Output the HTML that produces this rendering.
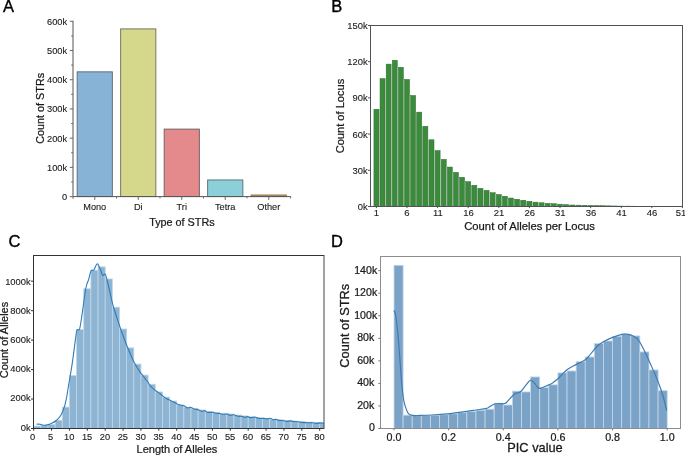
<!DOCTYPE html>
<html><head><meta charset="utf-8"><style>
html,body{margin:0;padding:0;background:#fff;}
svg{display:block;font-family:"Liberation Sans", sans-serif;will-change:transform;}
</style></head><body>
<svg width="685" height="456" viewBox="0 0 685 456">
<rect width="685" height="456" fill="#fff"/>
<text x="3.10" y="11.60" font-size="16.5" text-anchor="start" fill="#000" stroke="#000" stroke-width="0.36">A</text>
<text x="331.30" y="11.80" font-size="16.5" text-anchor="start" fill="#000" stroke="#000" stroke-width="0.36">B</text>
<text x="8.60" y="247.00" font-size="16.5" text-anchor="start" fill="#000" stroke="#000" stroke-width="0.36">C</text>
<text x="331.00" y="247.20" font-size="16.5" text-anchor="start" fill="#000" stroke="#000" stroke-width="0.36">D</text>
<rect x="77.15" y="71.84" width="35.20" height="124.76" fill="#87b4d6" stroke="#5a6470" stroke-width="0.9"/>
<rect x="120.65" y="28.90" width="35.20" height="167.70" fill="#d5d78a" stroke="#6a6a5a" stroke-width="0.9"/>
<rect x="164.15" y="129.11" width="35.20" height="67.49" fill="#e48a8d" stroke="#6a5a5c" stroke-width="0.9"/>
<rect x="207.65" y="179.95" width="35.20" height="16.65" fill="#8bd0d8" stroke="#566a6e" stroke-width="0.9"/>
<rect x="251.15" y="194.99" width="35.20" height="1.61" fill="#c99a62" stroke="#8a6a48" stroke-width="0.9"/>
<line x1="73.00" y1="20.80" x2="73.00" y2="196.60" stroke="#a0a0a0" stroke-width="1.8"/>
<line x1="73.00" y1="196.60" x2="290.80" y2="196.60" stroke="#555" stroke-width="1.0"/>
<line x1="69.80" y1="196.60" x2="73.00" y2="196.60" stroke="#666" stroke-width="1"/>
<text x="67.20" y="200.00" font-size="9.3" text-anchor="end" fill="#1a1a1a" stroke="#1a1a1a" stroke-width="0.11">0</text>
<line x1="69.80" y1="167.38" x2="73.00" y2="167.38" stroke="#666" stroke-width="1"/>
<text x="67.20" y="170.78" font-size="9.3" text-anchor="end" fill="#1a1a1a" stroke="#1a1a1a" stroke-width="0.11">100k</text>
<line x1="69.80" y1="138.17" x2="73.00" y2="138.17" stroke="#666" stroke-width="1"/>
<text x="67.20" y="141.57" font-size="9.3" text-anchor="end" fill="#1a1a1a" stroke="#1a1a1a" stroke-width="0.11">200k</text>
<line x1="69.80" y1="108.95" x2="73.00" y2="108.95" stroke="#666" stroke-width="1"/>
<text x="67.20" y="112.35" font-size="9.3" text-anchor="end" fill="#1a1a1a" stroke="#1a1a1a" stroke-width="0.11">300k</text>
<line x1="69.80" y1="79.73" x2="73.00" y2="79.73" stroke="#666" stroke-width="1"/>
<text x="67.20" y="83.13" font-size="9.3" text-anchor="end" fill="#1a1a1a" stroke="#1a1a1a" stroke-width="0.11">400k</text>
<line x1="69.80" y1="50.52" x2="73.00" y2="50.52" stroke="#666" stroke-width="1"/>
<text x="67.20" y="53.92" font-size="9.3" text-anchor="end" fill="#1a1a1a" stroke="#1a1a1a" stroke-width="0.11">500k</text>
<line x1="69.80" y1="21.30" x2="73.00" y2="21.30" stroke="#666" stroke-width="1"/>
<text x="67.20" y="24.70" font-size="9.3" text-anchor="end" fill="#1a1a1a" stroke="#1a1a1a" stroke-width="0.11">600k</text>
<line x1="71.20" y1="181.99" x2="73.00" y2="181.99" stroke="#666" stroke-width="1"/>
<line x1="71.20" y1="152.78" x2="73.00" y2="152.78" stroke="#666" stroke-width="1"/>
<line x1="71.20" y1="123.56" x2="73.00" y2="123.56" stroke="#666" stroke-width="1"/>
<line x1="71.20" y1="94.34" x2="73.00" y2="94.34" stroke="#666" stroke-width="1"/>
<line x1="71.20" y1="65.12" x2="73.00" y2="65.12" stroke="#666" stroke-width="1"/>
<line x1="71.20" y1="35.91" x2="73.00" y2="35.91" stroke="#666" stroke-width="1"/>
<line x1="94.75" y1="196.60" x2="94.75" y2="199.90" stroke="#666" stroke-width="1"/>
<text x="94.75" y="210.00" font-size="9.2" text-anchor="middle" fill="#1a1a1a" stroke="#1a1a1a" stroke-width="0.11">Mono</text>
<line x1="138.25" y1="196.60" x2="138.25" y2="199.90" stroke="#666" stroke-width="1"/>
<text x="138.25" y="210.00" font-size="9.2" text-anchor="middle" fill="#1a1a1a" stroke="#1a1a1a" stroke-width="0.11">Di</text>
<line x1="181.75" y1="196.60" x2="181.75" y2="199.90" stroke="#666" stroke-width="1"/>
<text x="181.75" y="210.00" font-size="9.2" text-anchor="middle" fill="#1a1a1a" stroke="#1a1a1a" stroke-width="0.11">Tri</text>
<line x1="225.25" y1="196.60" x2="225.25" y2="199.90" stroke="#666" stroke-width="1"/>
<text x="225.25" y="210.00" font-size="9.2" text-anchor="middle" fill="#1a1a1a" stroke="#1a1a1a" stroke-width="0.11">Tetra</text>
<line x1="268.75" y1="196.60" x2="268.75" y2="199.90" stroke="#666" stroke-width="1"/>
<text x="268.75" y="210.00" font-size="9.2" text-anchor="middle" fill="#1a1a1a" stroke="#1a1a1a" stroke-width="0.11">Other</text>
<line x1="116.50" y1="196.60" x2="116.50" y2="198.40" stroke="#666" stroke-width="1"/>
<line x1="160.00" y1="196.60" x2="160.00" y2="198.40" stroke="#666" stroke-width="1"/>
<line x1="203.50" y1="196.60" x2="203.50" y2="198.40" stroke="#666" stroke-width="1"/>
<line x1="247.00" y1="196.60" x2="247.00" y2="198.40" stroke="#666" stroke-width="1"/>
<line x1="290.60" y1="196.60" x2="290.60" y2="198.40" stroke="#666" stroke-width="1"/>
<line x1="73.00" y1="196.60" x2="73.00" y2="198.80" stroke="#666" stroke-width="1"/>
<text x="181.90" y="226.00" font-size="10.8" text-anchor="middle" fill="#1a1a1a" stroke="#1a1a1a" stroke-width="0.24">Type of STRs</text>
<text x="44.20" y="108.30" font-size="10.8" text-anchor="middle" fill="#1a1a1a" stroke="#1a1a1a" stroke-width="0.24" transform="rotate(-90 44.20 108.30)">Count of STRs</text>
<rect x="373.92" y="109.24" width="5.00" height="97.26" fill="#3a8b3c" stroke="#2e722f" stroke-width="0.5"/>
<rect x="379.17" y="109.24" width="0.62" height="97.26" fill="#b9b9b9"/>
<rect x="380.04" y="78.59" width="5.00" height="127.91" fill="#3a8b3c" stroke="#2e722f" stroke-width="0.5"/>
<rect x="385.29" y="78.59" width="0.62" height="127.91" fill="#b9b9b9"/>
<rect x="386.16" y="64.11" width="5.00" height="142.39" fill="#3a8b3c" stroke="#2e722f" stroke-width="0.5"/>
<rect x="391.41" y="64.11" width="0.62" height="142.39" fill="#b9b9b9"/>
<rect x="392.28" y="60.25" width="5.00" height="146.25" fill="#3a8b3c" stroke="#2e722f" stroke-width="0.5"/>
<rect x="397.53" y="67.25" width="0.62" height="139.25" fill="#b9b9b9"/>
<rect x="398.40" y="67.25" width="5.00" height="139.25" fill="#3a8b3c" stroke="#2e722f" stroke-width="0.5"/>
<rect x="403.65" y="79.44" width="0.62" height="127.06" fill="#b9b9b9"/>
<rect x="404.52" y="79.44" width="5.00" height="127.06" fill="#3a8b3c" stroke="#2e722f" stroke-width="0.5"/>
<rect x="409.77" y="95.49" width="0.62" height="111.01" fill="#b9b9b9"/>
<rect x="410.64" y="95.49" width="5.00" height="111.01" fill="#3a8b3c" stroke="#2e722f" stroke-width="0.5"/>
<rect x="415.89" y="112.14" width="0.62" height="94.36" fill="#b9b9b9"/>
<rect x="416.76" y="112.14" width="5.00" height="94.36" fill="#3a8b3c" stroke="#2e722f" stroke-width="0.5"/>
<rect x="422.01" y="126.26" width="0.62" height="80.24" fill="#b9b9b9"/>
<rect x="422.88" y="126.26" width="5.00" height="80.24" fill="#3a8b3c" stroke="#2e722f" stroke-width="0.5"/>
<rect x="428.13" y="139.77" width="0.62" height="66.73" fill="#b9b9b9"/>
<rect x="429.00" y="139.77" width="5.00" height="66.73" fill="#3a8b3c" stroke="#2e722f" stroke-width="0.5"/>
<rect x="434.25" y="150.51" width="0.62" height="55.99" fill="#b9b9b9"/>
<rect x="435.12" y="150.51" width="5.00" height="55.99" fill="#3a8b3c" stroke="#2e722f" stroke-width="0.5"/>
<rect x="440.37" y="159.32" width="0.62" height="47.18" fill="#b9b9b9"/>
<rect x="441.24" y="159.32" width="5.00" height="47.18" fill="#3a8b3c" stroke="#2e722f" stroke-width="0.5"/>
<rect x="446.49" y="167.04" width="0.62" height="39.46" fill="#b9b9b9"/>
<rect x="447.36" y="167.04" width="5.00" height="39.46" fill="#3a8b3c" stroke="#2e722f" stroke-width="0.5"/>
<rect x="452.61" y="172.35" width="0.62" height="34.15" fill="#b9b9b9"/>
<rect x="453.48" y="172.35" width="5.00" height="34.15" fill="#3a8b3c" stroke="#2e722f" stroke-width="0.5"/>
<rect x="458.73" y="177.30" width="0.62" height="29.20" fill="#b9b9b9"/>
<rect x="459.60" y="177.30" width="5.00" height="29.20" fill="#3a8b3c" stroke="#2e722f" stroke-width="0.5"/>
<rect x="464.85" y="181.64" width="0.62" height="24.86" fill="#b9b9b9"/>
<rect x="465.72" y="181.64" width="5.00" height="24.86" fill="#3a8b3c" stroke="#2e722f" stroke-width="0.5"/>
<rect x="470.97" y="185.26" width="0.62" height="21.24" fill="#b9b9b9"/>
<rect x="471.84" y="185.26" width="5.00" height="21.24" fill="#3a8b3c" stroke="#2e722f" stroke-width="0.5"/>
<rect x="477.09" y="188.28" width="0.62" height="18.22" fill="#b9b9b9"/>
<rect x="477.96" y="188.28" width="5.00" height="18.22" fill="#3a8b3c" stroke="#2e722f" stroke-width="0.5"/>
<rect x="483.21" y="190.33" width="0.62" height="16.17" fill="#b9b9b9"/>
<rect x="484.08" y="190.33" width="5.00" height="16.17" fill="#3a8b3c" stroke="#2e722f" stroke-width="0.5"/>
<rect x="489.33" y="192.74" width="0.62" height="13.76" fill="#b9b9b9"/>
<rect x="490.20" y="192.74" width="5.00" height="13.76" fill="#3a8b3c" stroke="#2e722f" stroke-width="0.5"/>
<rect x="495.45" y="194.55" width="0.62" height="11.95" fill="#b9b9b9"/>
<rect x="496.32" y="194.55" width="5.00" height="11.95" fill="#3a8b3c" stroke="#2e722f" stroke-width="0.5"/>
<rect x="501.57" y="196.24" width="0.62" height="10.26" fill="#b9b9b9"/>
<rect x="502.44" y="196.24" width="5.00" height="10.26" fill="#3a8b3c" stroke="#2e722f" stroke-width="0.5"/>
<rect x="507.69" y="198.05" width="0.62" height="8.45" fill="#b9b9b9"/>
<rect x="508.56" y="198.05" width="5.00" height="8.45" fill="#3a8b3c" stroke="#2e722f" stroke-width="0.5"/>
<rect x="513.81" y="199.26" width="0.62" height="7.24" fill="#b9b9b9"/>
<rect x="514.68" y="199.26" width="5.00" height="7.24" fill="#3a8b3c" stroke="#2e722f" stroke-width="0.5"/>
<rect x="519.93" y="200.23" width="0.62" height="6.27" fill="#b9b9b9"/>
<rect x="520.80" y="200.23" width="5.00" height="6.27" fill="#3a8b3c" stroke="#2e722f" stroke-width="0.5"/>
<rect x="526.05" y="201.31" width="0.62" height="5.19" fill="#b9b9b9"/>
<rect x="526.92" y="201.31" width="5.00" height="5.19" fill="#3a8b3c" stroke="#2e722f" stroke-width="0.5"/>
<rect x="532.17" y="202.16" width="0.62" height="4.34" fill="#b9b9b9"/>
<rect x="533.04" y="202.16" width="5.00" height="4.34" fill="#3a8b3c" stroke="#2e722f" stroke-width="0.5"/>
<rect x="538.29" y="202.76" width="0.62" height="3.74" fill="#b9b9b9"/>
<rect x="539.16" y="202.76" width="5.00" height="3.74" fill="#3a8b3c" stroke="#2e722f" stroke-width="0.5"/>
<rect x="544.41" y="203.30" width="0.62" height="3.20" fill="#b9b9b9"/>
<rect x="545.28" y="203.30" width="5.00" height="3.20" fill="#3a8b3c" stroke="#2e722f" stroke-width="0.5"/>
<rect x="550.53" y="203.72" width="0.62" height="2.78" fill="#b9b9b9"/>
<rect x="551.40" y="203.72" width="5.00" height="2.78" fill="#3a8b3c" stroke="#2e722f" stroke-width="0.5"/>
<rect x="556.65" y="204.21" width="0.62" height="2.29" fill="#b9b9b9"/>
<rect x="557.52" y="204.21" width="5.00" height="2.29" fill="#3a8b3c" stroke="#2e722f" stroke-width="0.5"/>
<rect x="562.77" y="204.63" width="0.62" height="1.87" fill="#b9b9b9"/>
<rect x="563.64" y="204.63" width="5.00" height="1.87" fill="#3a8b3c" stroke="#2e722f" stroke-width="0.5"/>
<rect x="568.89" y="204.99" width="0.62" height="1.51" fill="#b9b9b9"/>
<rect x="569.76" y="204.99" width="5.00" height="1.51" fill="#3a8b3c" stroke="#2e722f" stroke-width="0.5"/>
<rect x="575.01" y="205.17" width="0.62" height="1.33" fill="#b9b9b9"/>
<rect x="575.88" y="205.17" width="5.00" height="1.33" fill="#3a8b3c" stroke="#2e722f" stroke-width="0.5"/>
<rect x="581.13" y="205.29" width="0.62" height="1.21" fill="#b9b9b9"/>
<rect x="582.00" y="205.29" width="5.00" height="1.21" fill="#3a8b3c" stroke="#2e722f" stroke-width="0.5"/>
<rect x="587.25" y="205.35" width="0.62" height="1.15" fill="#b9b9b9"/>
<rect x="588.12" y="205.35" width="5.00" height="1.15" fill="#3a8b3c" stroke="#2e722f" stroke-width="0.5"/>
<rect x="593.37" y="205.53" width="0.62" height="0.97" fill="#b9b9b9"/>
<rect x="594.24" y="205.53" width="5.00" height="0.97" fill="#3a8b3c" stroke="#2e722f" stroke-width="0.5"/>
<rect x="599.49" y="205.72" width="0.62" height="0.78" fill="#b9b9b9"/>
<rect x="600.36" y="205.72" width="5.00" height="0.78" fill="#3a8b3c" stroke="#2e722f" stroke-width="0.5"/>
<rect x="605.61" y="205.84" width="0.62" height="0.66" fill="#b9b9b9"/>
<rect x="606.48" y="205.84" width="5.00" height="0.66" fill="#3a8b3c" stroke="#2e722f" stroke-width="0.5"/>
<rect x="611.73" y="205.96" width="0.62" height="0.54" fill="#b9b9b9"/>
<rect x="612.60" y="205.96" width="5.00" height="0.54" fill="#3a8b3c" stroke="#2e722f" stroke-width="0.5"/>
<rect x="618.72" y="206.08" width="5.00" height="0.42" fill="#3a8b3c" stroke="#2e722f" stroke-width="0.5"/>
<rect x="624.84" y="206.14" width="5.00" height="0.36" fill="#3a8b3c" stroke="#2e722f" stroke-width="0.5"/>
<rect x="630.96" y="206.20" width="5.00" height="0.30" fill="#3a8b3c" stroke="#2e722f" stroke-width="0.5"/>
<rect x="370.50" y="25.50" width="312.00" height="181.00" fill="none" stroke="#525252" stroke-width="1"/>
<line x1="368.00" y1="206.50" x2="370.50" y2="206.50" stroke="#525252" stroke-width="1"/>
<text x="367.70" y="209.90" font-size="9.4" text-anchor="end" fill="#1a1a1a" stroke="#1a1a1a" stroke-width="0.11">0k</text>
<line x1="368.00" y1="170.30" x2="370.50" y2="170.30" stroke="#525252" stroke-width="1"/>
<text x="367.70" y="173.70" font-size="9.4" text-anchor="end" fill="#1a1a1a" stroke="#1a1a1a" stroke-width="0.11">30k</text>
<line x1="368.00" y1="134.10" x2="370.50" y2="134.10" stroke="#525252" stroke-width="1"/>
<text x="367.70" y="137.50" font-size="9.4" text-anchor="end" fill="#1a1a1a" stroke="#1a1a1a" stroke-width="0.11">60k</text>
<line x1="368.00" y1="97.90" x2="370.50" y2="97.90" stroke="#525252" stroke-width="1"/>
<text x="367.70" y="101.30" font-size="9.4" text-anchor="end" fill="#1a1a1a" stroke="#1a1a1a" stroke-width="0.11">90k</text>
<line x1="368.00" y1="61.70" x2="370.50" y2="61.70" stroke="#525252" stroke-width="1"/>
<text x="367.70" y="65.10" font-size="9.4" text-anchor="end" fill="#1a1a1a" stroke="#1a1a1a" stroke-width="0.11">120k</text>
<line x1="368.00" y1="25.50" x2="370.50" y2="25.50" stroke="#525252" stroke-width="1"/>
<text x="367.70" y="28.90" font-size="9.4" text-anchor="end" fill="#1a1a1a" stroke="#1a1a1a" stroke-width="0.11">150k</text>
<line x1="376.42" y1="206.50" x2="376.42" y2="208.10" stroke="#525252" stroke-width="1"/>
<text x="376.42" y="215.60" font-size="9.5" text-anchor="middle" fill="#1a1a1a" stroke="#1a1a1a" stroke-width="0.11">1</text>
<line x1="407.02" y1="206.50" x2="407.02" y2="208.10" stroke="#525252" stroke-width="1"/>
<text x="407.02" y="215.60" font-size="9.5" text-anchor="middle" fill="#1a1a1a" stroke="#1a1a1a" stroke-width="0.11">6</text>
<line x1="437.62" y1="206.50" x2="437.62" y2="208.10" stroke="#525252" stroke-width="1"/>
<text x="437.92" y="215.60" font-size="9.5" text-anchor="middle" fill="#1a1a1a" stroke="#1a1a1a" stroke-width="0.11">11</text>
<line x1="468.22" y1="206.50" x2="468.22" y2="208.10" stroke="#525252" stroke-width="1"/>
<text x="468.52" y="215.60" font-size="9.5" text-anchor="middle" fill="#1a1a1a" stroke="#1a1a1a" stroke-width="0.11">16</text>
<line x1="498.82" y1="206.50" x2="498.82" y2="208.10" stroke="#525252" stroke-width="1"/>
<text x="499.12" y="215.60" font-size="9.5" text-anchor="middle" fill="#1a1a1a" stroke="#1a1a1a" stroke-width="0.11">21</text>
<line x1="529.42" y1="206.50" x2="529.42" y2="208.10" stroke="#525252" stroke-width="1"/>
<text x="529.72" y="215.60" font-size="9.5" text-anchor="middle" fill="#1a1a1a" stroke="#1a1a1a" stroke-width="0.11">26</text>
<line x1="560.02" y1="206.50" x2="560.02" y2="208.10" stroke="#525252" stroke-width="1"/>
<text x="560.32" y="215.60" font-size="9.5" text-anchor="middle" fill="#1a1a1a" stroke="#1a1a1a" stroke-width="0.11">31</text>
<line x1="590.62" y1="206.50" x2="590.62" y2="208.10" stroke="#525252" stroke-width="1"/>
<text x="590.92" y="215.60" font-size="9.5" text-anchor="middle" fill="#1a1a1a" stroke="#1a1a1a" stroke-width="0.11">36</text>
<line x1="621.22" y1="206.50" x2="621.22" y2="208.10" stroke="#525252" stroke-width="1"/>
<text x="621.52" y="215.60" font-size="9.5" text-anchor="middle" fill="#1a1a1a" stroke="#1a1a1a" stroke-width="0.11">41</text>
<line x1="651.82" y1="206.50" x2="651.82" y2="208.10" stroke="#525252" stroke-width="1"/>
<text x="652.12" y="215.60" font-size="9.5" text-anchor="middle" fill="#1a1a1a" stroke="#1a1a1a" stroke-width="0.11">46</text>
<line x1="682.42" y1="206.50" x2="682.42" y2="208.10" stroke="#525252" stroke-width="1"/>
<text x="681.02" y="215.60" font-size="9.5" text-anchor="middle" fill="#1a1a1a" stroke="#1a1a1a" stroke-width="0.11">51</text>
<text x="529.60" y="229.60" font-size="11.25" text-anchor="middle" fill="#1a1a1a" stroke="#1a1a1a" stroke-width="0.25">Count of Alleles per Locus</text>
<text x="344.40" y="116.00" font-size="11.1" text-anchor="middle" fill="#1a1a1a" stroke="#1a1a1a" stroke-width="0.24" transform="rotate(-90 344.40 116.00)">Count of Locus</text>
<clipPath id="cc"><rect x="33.5" y="255.5" width="290.5" height="173.0"/></clipPath>
<g clip-path="url(#cc)">
<rect x="33.70" y="426.11" width="7.15" height="2.39" fill="#8db4d3" stroke="#c0d6e8" stroke-width="0.8"/>
<rect x="40.85" y="425.30" width="7.15" height="3.20" fill="#8db4d3" stroke="#c0d6e8" stroke-width="0.8"/>
<rect x="48.00" y="424.40" width="7.15" height="4.10" fill="#8db4d3" stroke="#c0d6e8" stroke-width="0.8"/>
<rect x="55.15" y="420.30" width="7.15" height="8.20" fill="#8db4d3" stroke="#c0d6e8" stroke-width="0.8"/>
<rect x="62.30" y="407.09" width="7.15" height="21.41" fill="#8db4d3" stroke="#c0d6e8" stroke-width="0.8"/>
<rect x="69.45" y="375.57" width="7.15" height="52.93" fill="#8db4d3" stroke="#c0d6e8" stroke-width="0.8"/>
<rect x="76.60" y="329.46" width="7.15" height="99.04" fill="#8db4d3" stroke="#c0d6e8" stroke-width="0.8"/>
<rect x="83.75" y="288.81" width="7.15" height="139.69" fill="#8db4d3" stroke="#c0d6e8" stroke-width="0.8"/>
<rect x="90.90" y="270.25" width="7.15" height="158.25" fill="#8db4d3" stroke="#c0d6e8" stroke-width="0.8"/>
<rect x="98.05" y="266.86" width="7.15" height="161.64" fill="#8db4d3" stroke="#c0d6e8" stroke-width="0.8"/>
<rect x="105.20" y="278.94" width="7.15" height="149.56" fill="#8db4d3" stroke="#c0d6e8" stroke-width="0.8"/>
<rect x="112.35" y="307.22" width="7.15" height="121.28" fill="#8db4d3" stroke="#c0d6e8" stroke-width="0.8"/>
<rect x="119.50" y="329.02" width="7.15" height="99.48" fill="#8db4d3" stroke="#c0d6e8" stroke-width="0.8"/>
<rect x="126.65" y="347.87" width="7.15" height="80.63" fill="#8db4d3" stroke="#c0d6e8" stroke-width="0.8"/>
<rect x="133.80" y="364.08" width="7.15" height="64.42" fill="#8db4d3" stroke="#c0d6e8" stroke-width="0.8"/>
<rect x="140.95" y="375.12" width="7.15" height="53.38" fill="#8db4d3" stroke="#c0d6e8" stroke-width="0.8"/>
<rect x="148.10" y="384.26" width="7.15" height="44.24" fill="#8db4d3" stroke="#c0d6e8" stroke-width="0.8"/>
<rect x="155.25" y="391.92" width="7.15" height="36.58" fill="#8db4d3" stroke="#c0d6e8" stroke-width="0.8"/>
<rect x="162.40" y="397.07" width="7.15" height="31.43" fill="#8db4d3" stroke="#c0d6e8" stroke-width="0.8"/>
<rect x="169.55" y="401.05" width="7.15" height="27.45" fill="#8db4d3" stroke="#c0d6e8" stroke-width="0.8"/>
<rect x="176.70" y="405.03" width="7.15" height="23.47" fill="#8db4d3" stroke="#c0d6e8" stroke-width="0.8"/>
<rect x="183.85" y="407.24" width="7.15" height="21.26" fill="#8db4d3" stroke="#c0d6e8" stroke-width="0.8"/>
<rect x="191.00" y="408.86" width="7.15" height="19.64" fill="#8db4d3" stroke="#c0d6e8" stroke-width="0.8"/>
<rect x="198.15" y="410.03" width="7.15" height="18.47" fill="#8db4d3" stroke="#c0d6e8" stroke-width="0.8"/>
<rect x="205.30" y="411.36" width="7.15" height="17.14" fill="#8db4d3" stroke="#c0d6e8" stroke-width="0.8"/>
<rect x="212.45" y="412.39" width="7.15" height="16.11" fill="#8db4d3" stroke="#c0d6e8" stroke-width="0.8"/>
<rect x="219.60" y="413.28" width="7.15" height="15.22" fill="#8db4d3" stroke="#c0d6e8" stroke-width="0.8"/>
<rect x="226.75" y="414.01" width="7.15" height="14.49" fill="#8db4d3" stroke="#c0d6e8" stroke-width="0.8"/>
<rect x="233.90" y="415.04" width="7.15" height="13.46" fill="#8db4d3" stroke="#c0d6e8" stroke-width="0.8"/>
<rect x="241.05" y="415.93" width="7.15" height="12.57" fill="#8db4d3" stroke="#c0d6e8" stroke-width="0.8"/>
<rect x="248.20" y="416.81" width="7.15" height="11.69" fill="#8db4d3" stroke="#c0d6e8" stroke-width="0.8"/>
<rect x="255.35" y="417.69" width="7.15" height="10.81" fill="#8db4d3" stroke="#c0d6e8" stroke-width="0.8"/>
<rect x="262.50" y="418.43" width="7.15" height="10.07" fill="#8db4d3" stroke="#c0d6e8" stroke-width="0.8"/>
<rect x="269.65" y="419.17" width="7.15" height="9.33" fill="#8db4d3" stroke="#c0d6e8" stroke-width="0.8"/>
<rect x="276.80" y="419.90" width="7.15" height="8.60" fill="#8db4d3" stroke="#c0d6e8" stroke-width="0.8"/>
<rect x="283.95" y="420.49" width="7.15" height="8.01" fill="#8db4d3" stroke="#c0d6e8" stroke-width="0.8"/>
<rect x="291.10" y="421.08" width="7.15" height="7.42" fill="#8db4d3" stroke="#c0d6e8" stroke-width="0.8"/>
<rect x="298.25" y="421.52" width="7.15" height="6.98" fill="#8db4d3" stroke="#c0d6e8" stroke-width="0.8"/>
<rect x="305.40" y="422.11" width="7.15" height="6.39" fill="#8db4d3" stroke="#c0d6e8" stroke-width="0.8"/>
<rect x="312.55" y="422.56" width="7.15" height="5.94" fill="#8db4d3" stroke="#c0d6e8" stroke-width="0.8"/>
<rect x="319.70" y="423.00" width="7.15" height="5.50" fill="#8db4d3" stroke="#c0d6e8" stroke-width="0.8"/>
<path d="M36.60,424.20 C36.83,424.18 37.45,424.08 38.00,424.10 C38.55,424.12 39.23,424.17 39.90,424.30 C40.57,424.43 41.23,424.75 42.00,424.90 C42.77,425.05 43.44,425.25 44.50,425.20 C45.56,425.15 47.07,424.97 48.35,424.60 C49.63,424.23 50.93,423.65 52.20,423.00 C53.48,422.35 54.85,421.60 56.00,420.70 C57.15,419.80 58.20,418.68 59.10,417.60 C60.00,416.52 60.70,415.53 61.40,414.20 C62.10,412.87 62.78,410.88 63.30,409.60 C63.82,408.32 64.12,407.78 64.50,406.50 C64.88,405.22 65.22,403.57 65.60,401.90 C65.98,400.23 66.27,399.47 66.80,396.50 C67.33,393.53 67.87,389.78 68.80,384.10 C69.73,378.42 71.18,370.65 72.40,362.40 C73.62,354.15 75.28,340.03 76.10,334.60 C76.92,329.17 76.70,330.80 77.30,329.80 C77.90,328.80 78.90,331.22 79.70,328.60 C80.50,325.98 81.07,320.87 82.10,314.10 C83.13,307.33 84.82,293.73 85.90,288.00 C86.98,282.27 87.72,282.62 88.60,279.70 C89.48,276.78 90.33,272.08 91.20,270.50 C92.07,268.92 92.83,271.30 93.80,270.20 C94.77,269.10 96.12,264.50 97.00,263.90 C97.88,263.30 98.42,265.38 99.10,266.60 C99.78,267.82 100.50,269.73 101.10,271.20 C101.70,272.67 102.10,274.92 102.70,275.40 C103.30,275.88 104.20,274.15 104.70,274.10 C105.20,274.05 105.32,274.17 105.70,275.10 C106.08,276.03 106.45,277.55 107.00,279.70 C107.55,281.85 108.05,283.93 109.00,288.00 C109.95,292.07 111.45,299.35 112.70,304.10 C113.95,308.85 115.22,312.48 116.50,316.50 C117.78,320.52 118.67,323.32 120.40,328.20 C122.13,333.08 124.72,340.32 126.90,345.80 C129.08,351.28 131.82,357.53 133.50,361.10 C135.18,364.67 135.90,365.37 137.00,367.20 C138.10,369.03 139.05,370.63 140.10,372.10 C141.15,373.57 142.40,374.80 143.30,376.00 C144.20,377.20 144.77,378.38 145.50,379.30 C146.23,380.22 146.97,380.50 147.70,381.50 C148.43,382.50 148.98,384.12 149.90,385.30 C150.82,386.48 152.10,387.60 153.20,388.60 C154.30,389.60 155.42,390.48 156.50,391.30 C157.58,392.12 158.80,392.85 159.70,393.50 C160.60,394.15 160.98,394.47 161.90,395.20 C162.82,395.93 164.10,397.17 165.20,397.90 C166.30,398.63 167.40,399.05 168.50,399.60 C169.60,400.15 170.70,400.67 171.80,401.20 C172.90,401.73 174.00,402.25 175.10,402.80 C176.20,403.35 177.30,404.07 178.40,404.50 C179.50,404.93 180.78,405.18 181.70,405.40 C182.62,405.62 182.90,405.37 183.90,405.80 C184.90,406.23 186.60,407.77 187.70,408.00 C188.80,408.23 189.50,407.05 190.50,407.20 C191.50,407.35 192.62,408.53 193.70,408.90 C194.78,409.27 195.58,409.00 197.00,409.40 C198.42,409.80 200.92,411.12 202.20,411.30 C203.48,411.48 203.85,410.33 204.70,410.50 C205.55,410.67 205.85,412.00 207.30,412.30 C208.75,412.60 211.97,412.13 213.40,412.30 C214.83,412.47 214.80,413.10 215.90,413.30 C217.00,413.50 218.97,413.33 220.00,413.50 C221.03,413.67 220.82,414.20 222.10,414.30 C223.38,414.40 226.33,413.92 227.70,414.10 C229.07,414.28 229.28,415.30 230.30,415.40 C231.32,415.50 232.53,414.57 233.80,414.70 C235.07,414.83 236.53,415.92 237.90,416.20 C239.27,416.48 240.80,416.20 242.00,416.40 C243.20,416.60 244.17,417.37 245.10,417.40 C246.03,417.43 246.75,416.57 247.60,416.60 C248.45,416.63 248.83,417.50 250.20,417.60 C251.57,417.70 254.43,417.07 255.80,417.20 C257.17,417.33 257.03,418.20 258.40,418.40 C259.77,418.60 262.50,418.32 264.00,418.40 C265.50,418.48 266.33,418.93 267.40,418.90 C268.47,418.87 269.48,418.07 270.40,418.20 C271.32,418.33 271.98,419.50 272.90,419.70 C273.82,419.90 274.90,419.28 275.90,419.40 C276.90,419.52 277.58,420.18 278.90,420.40 C280.22,420.62 282.48,420.53 283.80,420.70 C285.12,420.87 285.72,421.37 286.80,421.40 C287.88,421.43 289.30,420.90 290.30,420.90 C291.30,420.90 291.57,421.27 292.80,421.40 C294.03,421.53 296.22,421.53 297.70,421.70 C299.18,421.87 300.03,422.23 301.70,422.40 C303.37,422.57 305.88,422.65 307.70,422.70 C309.52,422.75 311.12,422.58 312.60,422.70 C314.08,422.82 315.27,423.37 316.60,423.40 C317.93,423.43 319.20,422.90 320.60,422.90 C322.00,422.90 324.27,423.32 325.00,423.40" fill="none" stroke="#2e7cb8" stroke-width="1.1" stroke-linejoin="round"/>
</g>
<line x1="33.50" y1="255.50" x2="324.00" y2="255.50" stroke="#333" stroke-width="1"/>
<line x1="33.50" y1="255.00" x2="33.50" y2="429.00" stroke="#333" stroke-width="1"/>
<line x1="33.50" y1="428.50" x2="324.00" y2="428.50" stroke="#333" stroke-width="1"/>
<line x1="324.00" y1="255.00" x2="324.00" y2="429.00" stroke="#444" stroke-width="1"/>
<line x1="31.00" y1="428.50" x2="33.50" y2="428.50" stroke="#333" stroke-width="1"/>
<text x="30.70" y="430.67" font-size="9.4" text-anchor="end" fill="#1a1a1a" stroke="#1a1a1a" stroke-width="0.11">0k</text>
<line x1="31.00" y1="399.04" x2="33.50" y2="399.04" stroke="#333" stroke-width="1"/>
<text x="30.70" y="401.45" font-size="9.4" text-anchor="end" fill="#1a1a1a" stroke="#1a1a1a" stroke-width="0.11">200k</text>
<line x1="31.00" y1="369.58" x2="33.50" y2="369.58" stroke="#333" stroke-width="1"/>
<text x="30.70" y="372.23" font-size="9.4" text-anchor="end" fill="#1a1a1a" stroke="#1a1a1a" stroke-width="0.11">400k</text>
<line x1="31.00" y1="340.12" x2="33.50" y2="340.12" stroke="#333" stroke-width="1"/>
<text x="30.70" y="343.01" font-size="9.4" text-anchor="end" fill="#1a1a1a" stroke="#1a1a1a" stroke-width="0.11">600k</text>
<line x1="31.00" y1="310.66" x2="33.50" y2="310.66" stroke="#333" stroke-width="1"/>
<text x="30.70" y="313.79" font-size="9.4" text-anchor="end" fill="#1a1a1a" stroke="#1a1a1a" stroke-width="0.11">800k</text>
<line x1="31.00" y1="281.20" x2="33.50" y2="281.20" stroke="#333" stroke-width="1"/>
<text x="30.70" y="284.57" font-size="9.4" text-anchor="end" fill="#1a1a1a" stroke="#1a1a1a" stroke-width="0.11">1000k</text>
<line x1="33.70" y1="428.50" x2="33.70" y2="430.70" stroke="#333" stroke-width="1"/>
<text x="32.70" y="439.60" font-size="9.3" text-anchor="middle" fill="#1a1a1a" stroke="#1a1a1a" stroke-width="0.11">0</text>
<line x1="51.58" y1="428.50" x2="51.58" y2="430.70" stroke="#333" stroke-width="1"/>
<text x="50.58" y="439.60" font-size="9.3" text-anchor="middle" fill="#1a1a1a" stroke="#1a1a1a" stroke-width="0.11">5</text>
<line x1="69.45" y1="428.50" x2="69.45" y2="430.70" stroke="#333" stroke-width="1"/>
<text x="69.25" y="439.60" font-size="9.3" text-anchor="middle" fill="#1a1a1a" stroke="#1a1a1a" stroke-width="0.11">10</text>
<line x1="87.33" y1="428.50" x2="87.33" y2="430.70" stroke="#333" stroke-width="1"/>
<text x="87.12" y="439.60" font-size="9.3" text-anchor="middle" fill="#1a1a1a" stroke="#1a1a1a" stroke-width="0.11">15</text>
<line x1="105.20" y1="428.50" x2="105.20" y2="430.70" stroke="#333" stroke-width="1"/>
<text x="105.00" y="439.60" font-size="9.3" text-anchor="middle" fill="#1a1a1a" stroke="#1a1a1a" stroke-width="0.11">20</text>
<line x1="123.08" y1="428.50" x2="123.08" y2="430.70" stroke="#333" stroke-width="1"/>
<text x="122.88" y="439.60" font-size="9.3" text-anchor="middle" fill="#1a1a1a" stroke="#1a1a1a" stroke-width="0.11">25</text>
<line x1="140.95" y1="428.50" x2="140.95" y2="430.70" stroke="#333" stroke-width="1"/>
<text x="140.75" y="439.60" font-size="9.3" text-anchor="middle" fill="#1a1a1a" stroke="#1a1a1a" stroke-width="0.11">30</text>
<line x1="158.82" y1="428.50" x2="158.82" y2="430.70" stroke="#333" stroke-width="1"/>
<text x="158.62" y="439.60" font-size="9.3" text-anchor="middle" fill="#1a1a1a" stroke="#1a1a1a" stroke-width="0.11">35</text>
<line x1="176.70" y1="428.50" x2="176.70" y2="430.70" stroke="#333" stroke-width="1"/>
<text x="176.50" y="439.60" font-size="9.3" text-anchor="middle" fill="#1a1a1a" stroke="#1a1a1a" stroke-width="0.11">40</text>
<line x1="194.57" y1="428.50" x2="194.57" y2="430.70" stroke="#333" stroke-width="1"/>
<text x="194.38" y="439.60" font-size="9.3" text-anchor="middle" fill="#1a1a1a" stroke="#1a1a1a" stroke-width="0.11">45</text>
<line x1="212.45" y1="428.50" x2="212.45" y2="430.70" stroke="#333" stroke-width="1"/>
<text x="212.25" y="439.60" font-size="9.3" text-anchor="middle" fill="#1a1a1a" stroke="#1a1a1a" stroke-width="0.11">50</text>
<line x1="230.32" y1="428.50" x2="230.32" y2="430.70" stroke="#333" stroke-width="1"/>
<text x="230.12" y="439.60" font-size="9.3" text-anchor="middle" fill="#1a1a1a" stroke="#1a1a1a" stroke-width="0.11">55</text>
<line x1="248.20" y1="428.50" x2="248.20" y2="430.70" stroke="#333" stroke-width="1"/>
<text x="248.00" y="439.60" font-size="9.3" text-anchor="middle" fill="#1a1a1a" stroke="#1a1a1a" stroke-width="0.11">60</text>
<line x1="266.07" y1="428.50" x2="266.07" y2="430.70" stroke="#333" stroke-width="1"/>
<text x="265.88" y="439.60" font-size="9.3" text-anchor="middle" fill="#1a1a1a" stroke="#1a1a1a" stroke-width="0.11">65</text>
<line x1="283.95" y1="428.50" x2="283.95" y2="430.70" stroke="#333" stroke-width="1"/>
<text x="283.75" y="439.60" font-size="9.3" text-anchor="middle" fill="#1a1a1a" stroke="#1a1a1a" stroke-width="0.11">70</text>
<line x1="301.82" y1="428.50" x2="301.82" y2="430.70" stroke="#333" stroke-width="1"/>
<text x="301.62" y="439.60" font-size="9.3" text-anchor="middle" fill="#1a1a1a" stroke="#1a1a1a" stroke-width="0.11">75</text>
<line x1="319.70" y1="428.50" x2="319.70" y2="430.70" stroke="#333" stroke-width="1"/>
<text x="319.50" y="439.60" font-size="9.3" text-anchor="middle" fill="#1a1a1a" stroke="#1a1a1a" stroke-width="0.11">80</text>
<text x="176.90" y="453.00" font-size="11.0" text-anchor="middle" fill="#1a1a1a" stroke="#1a1a1a" stroke-width="0.24">Length of Alleles</text>
<text x="8.40" y="340.00" font-size="11.0" text-anchor="middle" fill="#1a1a1a" stroke="#1a1a1a" stroke-width="0.24" transform="rotate(-90 8.40 340.00)">Count of Alleles</text>
<rect x="394.00" y="265.31" width="9.11" height="163.19" fill="#7ba3c7" stroke="#c6d7e8" stroke-width="0.8"/>
<rect x="403.11" y="415.16" width="9.11" height="13.34" fill="#7ba3c7" stroke="#c6d7e8" stroke-width="0.8"/>
<rect x="412.21" y="415.38" width="9.11" height="13.12" fill="#7ba3c7" stroke="#c6d7e8" stroke-width="0.8"/>
<rect x="421.32" y="415.38" width="9.11" height="13.12" fill="#7ba3c7" stroke="#c6d7e8" stroke-width="0.8"/>
<rect x="430.43" y="415.38" width="9.11" height="13.12" fill="#7ba3c7" stroke="#c6d7e8" stroke-width="0.8"/>
<rect x="439.53" y="414.71" width="9.11" height="13.79" fill="#7ba3c7" stroke="#c6d7e8" stroke-width="0.8"/>
<rect x="448.64" y="413.81" width="9.11" height="14.69" fill="#7ba3c7" stroke="#c6d7e8" stroke-width="0.8"/>
<rect x="457.75" y="412.68" width="9.11" height="15.82" fill="#7ba3c7" stroke="#c6d7e8" stroke-width="0.8"/>
<rect x="466.85" y="411.66" width="9.11" height="16.84" fill="#7ba3c7" stroke="#c6d7e8" stroke-width="0.8"/>
<rect x="475.96" y="410.31" width="9.11" height="18.19" fill="#7ba3c7" stroke="#c6d7e8" stroke-width="0.8"/>
<rect x="485.07" y="409.18" width="9.11" height="19.32" fill="#7ba3c7" stroke="#c6d7e8" stroke-width="0.8"/>
<rect x="494.17" y="403.21" width="9.11" height="25.29" fill="#7ba3c7" stroke="#c6d7e8" stroke-width="0.8"/>
<rect x="503.28" y="405.01" width="9.11" height="23.49" fill="#7ba3c7" stroke="#c6d7e8" stroke-width="0.8"/>
<rect x="512.39" y="391.14" width="9.11" height="37.36" fill="#7ba3c7" stroke="#c6d7e8" stroke-width="0.8"/>
<rect x="521.49" y="391.93" width="9.11" height="36.57" fill="#7ba3c7" stroke="#c6d7e8" stroke-width="0.8"/>
<rect x="530.60" y="376.94" width="9.11" height="51.56" fill="#7ba3c7" stroke="#c6d7e8" stroke-width="0.8"/>
<rect x="539.71" y="387.65" width="9.11" height="40.85" fill="#7ba3c7" stroke="#c6d7e8" stroke-width="0.8"/>
<rect x="548.81" y="384.83" width="9.11" height="43.67" fill="#7ba3c7" stroke="#c6d7e8" stroke-width="0.8"/>
<rect x="557.92" y="372.88" width="9.11" height="55.62" fill="#7ba3c7" stroke="#c6d7e8" stroke-width="0.8"/>
<rect x="567.03" y="370.96" width="9.11" height="57.54" fill="#7ba3c7" stroke="#c6d7e8" stroke-width="0.8"/>
<rect x="576.13" y="361.72" width="9.11" height="66.78" fill="#7ba3c7" stroke="#c6d7e8" stroke-width="0.8"/>
<rect x="585.24" y="356.98" width="9.11" height="71.52" fill="#7ba3c7" stroke="#c6d7e8" stroke-width="0.8"/>
<rect x="594.35" y="343.56" width="9.11" height="84.94" fill="#7ba3c7" stroke="#c6d7e8" stroke-width="0.8"/>
<rect x="603.45" y="340.97" width="9.11" height="87.53" fill="#7ba3c7" stroke="#c6d7e8" stroke-width="0.8"/>
<rect x="612.56" y="336.35" width="9.11" height="92.15" fill="#7ba3c7" stroke="#c6d7e8" stroke-width="0.8"/>
<rect x="621.67" y="334.09" width="9.11" height="94.41" fill="#7ba3c7" stroke="#c6d7e8" stroke-width="0.8"/>
<rect x="630.77" y="335.90" width="9.11" height="92.60" fill="#7ba3c7" stroke="#c6d7e8" stroke-width="0.8"/>
<rect x="639.88" y="351.91" width="9.11" height="76.59" fill="#7ba3c7" stroke="#c6d7e8" stroke-width="0.8"/>
<rect x="648.99" y="369.95" width="9.11" height="58.55" fill="#7ba3c7" stroke="#c6d7e8" stroke-width="0.8"/>
<rect x="658.09" y="390.69" width="9.11" height="37.81" fill="#7ba3c7" stroke="#c6d7e8" stroke-width="0.8"/>
<path d="M393.90,310.50 C394.22,311.38 395.13,311.85 395.80,315.80 C396.47,319.75 397.20,326.75 397.90,334.20 C398.60,341.65 399.35,352.17 400.00,360.50 C400.65,368.83 401.18,377.62 401.80,384.20 C402.42,390.78 403.03,396.05 403.70,400.00 C404.37,403.95 405.02,405.63 405.80,407.90 C406.58,410.17 407.30,412.35 408.40,413.60 C409.50,414.85 410.47,415.10 412.40,415.40 C414.33,415.70 416.78,415.47 420.00,415.40 C423.22,415.33 427.80,415.20 431.70,415.00 C435.60,414.80 439.52,414.55 443.40,414.20 C447.28,413.85 451.12,413.37 455.00,412.90 C458.88,412.43 463.18,411.88 466.70,411.40 C470.22,410.92 472.78,410.50 476.10,410.00 C479.42,409.50 484.27,409.00 486.60,408.40 C488.93,407.80 488.75,407.13 490.10,406.40 C491.45,405.67 493.05,404.48 494.70,404.00 C496.35,403.52 498.58,403.53 500.00,403.50 C501.42,403.47 502.17,403.92 503.20,403.80 C504.23,403.68 505.02,403.73 506.20,402.80 C507.38,401.87 508.77,399.73 510.30,398.20 C511.83,396.67 513.70,394.67 515.40,393.60 C517.10,392.53 518.78,393.17 520.50,391.80 C522.22,390.43 524.07,387.32 525.70,385.40 C527.33,383.48 528.95,380.80 530.30,380.30 C531.65,379.80 532.53,381.20 533.80,382.40 C535.07,383.60 536.78,386.52 537.90,387.50 C539.02,388.48 539.13,388.55 540.50,388.30 C541.87,388.05 544.15,386.85 546.10,386.00 C548.05,385.15 550.33,384.32 552.20,383.20 C554.07,382.08 555.77,380.63 557.30,379.30 C558.83,377.97 559.85,376.75 561.40,375.20 C562.95,373.65 564.63,371.53 566.60,370.00 C568.57,368.47 571.02,367.20 573.20,366.00 C575.38,364.80 577.73,363.78 579.70,362.80 C581.67,361.82 583.47,361.20 585.00,360.10 C586.53,359.00 587.37,357.95 588.90,356.20 C590.43,354.45 592.43,351.58 594.20,349.60 C595.97,347.62 597.53,345.83 599.50,344.30 C601.47,342.77 603.82,341.55 606.00,340.40 C608.18,339.25 610.40,338.28 612.60,337.40 C614.80,336.52 617.22,335.63 619.20,335.10 C621.18,334.57 623.03,334.33 624.50,334.20 C625.97,334.07 626.55,334.00 628.00,334.30 C629.45,334.60 631.43,334.98 633.20,336.00 C634.97,337.02 636.78,338.03 638.60,340.40 C640.42,342.77 642.08,346.18 644.10,350.20 C646.12,354.22 648.50,359.57 650.70,364.50 C652.90,369.43 655.28,374.68 657.30,379.80 C659.32,384.92 661.23,390.08 662.80,395.20 C664.37,400.32 666.05,407.95 666.70,410.50" fill="none" stroke="#3e7db3" stroke-width="1.2" stroke-linejoin="round"/>
<rect x="380.50" y="256.50" width="300.00" height="172.00" fill="none" stroke="#8c8c8c" stroke-width="1"/>
<line x1="378.30" y1="428.50" x2="380.50" y2="428.50" stroke="#777" stroke-width="1"/>
<text x="374.90" y="431.00" font-size="10.6" text-anchor="end" fill="#1a1a1a" stroke="#1a1a1a" stroke-width="0.23">0</text>
<line x1="378.30" y1="405.95" x2="380.50" y2="405.95" stroke="#777" stroke-width="1"/>
<text x="365.70" y="408.83" font-size="10.6" text-anchor="middle" fill="#1a1a1a" stroke="#1a1a1a" stroke-width="0.23">20k</text>
<line x1="378.30" y1="383.40" x2="380.50" y2="383.40" stroke="#777" stroke-width="1"/>
<text x="365.70" y="386.36" font-size="10.6" text-anchor="middle" fill="#1a1a1a" stroke="#1a1a1a" stroke-width="0.23">40k</text>
<line x1="378.30" y1="360.85" x2="380.50" y2="360.85" stroke="#777" stroke-width="1"/>
<text x="365.70" y="363.89" font-size="10.6" text-anchor="middle" fill="#1a1a1a" stroke="#1a1a1a" stroke-width="0.23">60k</text>
<line x1="378.30" y1="338.30" x2="380.50" y2="338.30" stroke="#777" stroke-width="1"/>
<text x="365.70" y="341.42" font-size="10.6" text-anchor="middle" fill="#1a1a1a" stroke="#1a1a1a" stroke-width="0.23">80k</text>
<line x1="378.30" y1="315.75" x2="380.50" y2="315.75" stroke="#777" stroke-width="1"/>
<text x="365.70" y="318.95" font-size="10.6" text-anchor="middle" fill="#1a1a1a" stroke="#1a1a1a" stroke-width="0.23">100k</text>
<line x1="378.30" y1="293.20" x2="380.50" y2="293.20" stroke="#777" stroke-width="1"/>
<text x="365.70" y="296.48" font-size="10.6" text-anchor="middle" fill="#1a1a1a" stroke="#1a1a1a" stroke-width="0.23">120k</text>
<line x1="378.30" y1="270.65" x2="380.50" y2="270.65" stroke="#777" stroke-width="1"/>
<text x="365.70" y="274.01" font-size="10.6" text-anchor="middle" fill="#1a1a1a" stroke="#1a1a1a" stroke-width="0.23">140k</text>
<line x1="394.00" y1="428.50" x2="394.00" y2="430.30" stroke="#777" stroke-width="1"/>
<text x="394.00" y="441.30" font-size="10.7" text-anchor="middle" fill="#1a1a1a" stroke="#1a1a1a" stroke-width="0.24">0.0</text>
<line x1="448.64" y1="428.50" x2="448.64" y2="430.30" stroke="#777" stroke-width="1"/>
<text x="448.64" y="441.30" font-size="10.7" text-anchor="middle" fill="#1a1a1a" stroke="#1a1a1a" stroke-width="0.24">0.2</text>
<line x1="503.28" y1="428.50" x2="503.28" y2="430.30" stroke="#777" stroke-width="1"/>
<text x="503.28" y="441.30" font-size="10.7" text-anchor="middle" fill="#1a1a1a" stroke="#1a1a1a" stroke-width="0.24">0.4</text>
<line x1="557.92" y1="428.50" x2="557.92" y2="430.30" stroke="#777" stroke-width="1"/>
<text x="557.92" y="441.30" font-size="10.7" text-anchor="middle" fill="#1a1a1a" stroke="#1a1a1a" stroke-width="0.24">0.6</text>
<line x1="612.56" y1="428.50" x2="612.56" y2="430.30" stroke="#777" stroke-width="1"/>
<text x="612.56" y="441.30" font-size="10.7" text-anchor="middle" fill="#1a1a1a" stroke="#1a1a1a" stroke-width="0.24">0.8</text>
<line x1="667.20" y1="428.50" x2="667.20" y2="430.30" stroke="#777" stroke-width="1"/>
<text x="667.20" y="441.30" font-size="10.7" text-anchor="middle" fill="#1a1a1a" stroke="#1a1a1a" stroke-width="0.24">1.0</text>
<text x="535.00" y="452.00" font-size="12.8" text-anchor="middle" fill="#1a1a1a" stroke="#1a1a1a" stroke-width="0.28">PIC value</text>
<text x="349.40" y="325.70" font-size="12.8" text-anchor="middle" fill="#1a1a1a" stroke="#1a1a1a" stroke-width="0.28" transform="rotate(-90 349.40 325.70)">Count of STRs</text>
</svg>
</body></html>
